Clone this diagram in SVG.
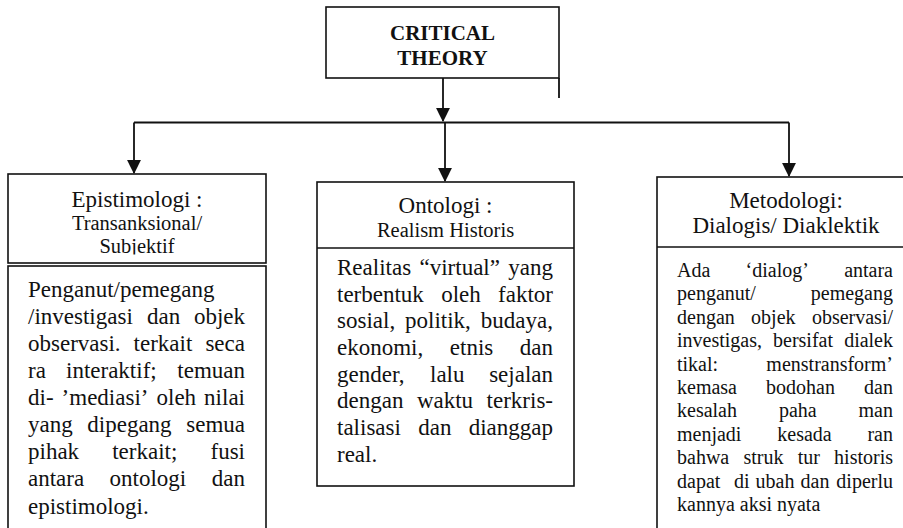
<svg xmlns="http://www.w3.org/2000/svg" width="903" height="528" viewBox="0 0 903 528" font-family="'Liberation Serif', 'Times New Roman', Times, serif">
<style>
text{font-family:'Liberation Serif', 'Times New Roman', Times, serif;fill:#111}
.box{fill:#fff;stroke:#111;stroke-width:1.6}
.ln{stroke:#111;stroke-width:1.8;fill:none}
.title{font-size:21px;font-weight:bold;text-anchor:middle}
.h1{font-size:23px;text-anchor:middle}
.h2{font-size:20.5px;text-anchor:middle}
.b{font-size:23px}
.r{font-size:20px}
.e{text-anchor:end}
</style>
<defs>
<marker id="arr" markerWidth="8" markerHeight="8" refX="7.5" refY="4" orient="auto" markerUnits="strokeWidth">
<path d="M0,0 L8,4 L0,8 Z" fill="#111"/>
</marker>
<clipPath id="hclip"><rect x="8" y="174" width="258" height="80.5"/></clipPath>
</defs>

<g id="connectors">
<line class="ln" x1="443" y1="78" x2="443" y2="121" marker-end="url(#arr)"/>
<line class="ln" x1="559" y1="78" x2="559" y2="98"/>
<line class="ln" x1="134" y1="122.5" x2="789" y2="122.5"/>
<line class="ln" x1="134" y1="122.5" x2="134" y2="173" marker-end="url(#arr)"/>
<line class="ln" x1="445" y1="122.5" x2="445" y2="181" marker-end="url(#arr)"/>
<line class="ln" x1="789" y1="122.5" x2="789" y2="176" marker-end="url(#arr)"/>
</g>

<g id="node-critical-theory">
<rect class="box" x="326" y="7" width="233" height="71"/>
<text class="title" x="442.5" y="40">CRITICAL</text>
<text class="title" x="442.5" y="65">THEORY</text>
</g>

<g id="node-epistimologi">
<rect class="box" x="8" y="174" width="258" height="89"/>
<text class="h1" x="137" y="207">Epistimologi :</text>
<text class="h2" x="137" y="230">Transanksional/</text>
<text class="h2" x="137" y="253" clip-path="url(#hclip)">Subjektif</text>
<rect class="box" x="8" y="266" width="258" height="280"/>
<text class="b" y="297"><tspan x="28">Penganut/pemegang</tspan></text>
<text class="b" y="324"><tspan x="28">/investigasi</tspan><tspan x="147">dan</tspan></text><text class="b e" x="245" y="324">objek</text>
<text class="b" y="351"><tspan x="28">observasi.</tspan><tspan x="133.6">terkait</tspan></text><text class="b e" x="245" y="351">seca</text>
<text class="b" y="378"><tspan x="28">ra</tspan><tspan x="66">interaktif;</tspan></text><text class="b e" x="245" y="378">temuan</text>
<text class="b" y="405"><tspan x="28">di-</tspan><tspan x="61.6">’mediasi’</tspan><tspan x="156.5">oleh</tspan></text><text class="b e" x="245" y="405">nilai</text>
<text class="b" y="432"><tspan x="28">yang</tspan><tspan x="87.3">dipegang</tspan></text><text class="b e" x="245" y="432">semua</text>
<text class="b" y="459"><tspan x="28">pihak</tspan><tspan x="112.2">terkait;</tspan></text><text class="b e" x="245" y="459">fusi</text>
<text class="b" y="486"><tspan x="28">antara</tspan><tspan x="109.6">ontologi</tspan></text><text class="b e" x="245" y="486">dan</text>
<text class="b" y="514"><tspan x="28">epistimologi.</tspan></text>
</g>

<g id="node-ontologi">
<rect class="box" x="317" y="182" width="257" height="304"/>
<line class="ln" x1="317" y1="248" x2="574" y2="248" style="stroke-width:1.6"/>
<text class="h1" x="445.5" y="213">Ontologi :</text>
<text class="h2" x="445.5" y="237">Realism Historis</text>
<text class="b" y="275"><tspan x="337">Realitas</tspan><tspan x="419.5">“virtual”</tspan></text><text class="b e" x="553" y="275">yang</text>
<text class="b" y="301.5"><tspan x="337">terbentuk</tspan><tspan x="441.2">oleh</tspan></text><text class="b e" x="553" y="301.5">faktor</text>
<text class="b" y="328"><tspan x="337">sosial,</tspan><tspan x="405">politik,</tspan></text><text class="b e" x="553" y="328">budaya,</text>
<text class="b" y="355"><tspan x="337">ekonomi,</tspan><tspan x="449.8">etnis</tspan></text><text class="b e" x="553" y="355">dan</text>
<text class="b" y="381.5"><tspan x="337">gender,</tspan><tspan x="430">lalu</tspan></text><text class="b e" x="553" y="381.5">sejalan</text>
<text class="b" y="408"><tspan x="337">dengan</tspan><tspan x="416.9">waktu</tspan></text><text class="b e" x="553" y="408">terkris-</text>
<text class="b" y="435"><tspan x="337">talisasi</tspan><tspan x="418.2">dan</tspan></text><text class="b e" x="553" y="435">dianggap</text>
<text class="b" y="462"><tspan x="337">real.</tspan></text>
</g>

<g id="node-metodologi">
<rect class="box" x="657" y="177" width="260" height="370"/>
<line class="ln" x1="657" y1="247" x2="903" y2="247" style="stroke-width:1.6"/>
<text class="h1" x="786" y="208">Metodologi:</text>
<text class="h1" x="786" y="233">Dialogis/ Diaklektik</text>
<text class="r" y="277"><tspan x="677">Ada</tspan><tspan x="745.6">‘dialog’</tspan></text><text class="r e" x="893" y="277">antara</text>
<text class="r" y="300.4"><tspan x="677">penganut/</tspan></text><text class="r e" x="893" y="300.4">pemegang</text>
<text class="r" y="323.8"><tspan x="677">dengan</tspan><tspan x="751.1">objek</tspan></text><text class="r e" x="893" y="323.8">observasi/</text>
<text class="r" y="347.2"><tspan x="677">investigas,</tspan><tspan x="773">bersifat</tspan></text><text class="r e" x="893" y="347.2">dialek</text>
<text class="r" y="370.6"><tspan x="677">tikal:</tspan></text><text class="r e" x="893" y="370.6">menstransform’</text>
<text class="r" y="394"><tspan x="677">kemasa</tspan><tspan x="766.1">bodohan</tspan></text><text class="r e" x="893" y="394">dan</text>
<text class="r" y="417.4"><tspan x="677">kesalah</tspan><tspan x="778.9">paha</tspan></text><text class="r e" x="893" y="417.4">man</text>
<text class="r" y="440.8"><tspan x="677">menjadi</tspan><tspan x="777.3">kesada</tspan></text><text class="r e" x="893" y="440.8">ran</text>
<text class="r" y="464.2"><tspan x="677">bahwa</tspan><tspan x="743.4">struk</tspan><tspan x="797.7">tur</tspan></text><text class="r e" x="893" y="464.2">historis</text>
<text class="r" y="487.6"><tspan x="677">dapat</tspan><tspan x="734">di</tspan><tspan x="755.5">ubah</tspan><tspan x="800.5">dan</tspan></text><text class="r e" x="893" y="487.6">diperlu</text>
<text class="r" y="511"><tspan x="677">kannya aksi nyata</tspan></text>
</g>
</svg>
